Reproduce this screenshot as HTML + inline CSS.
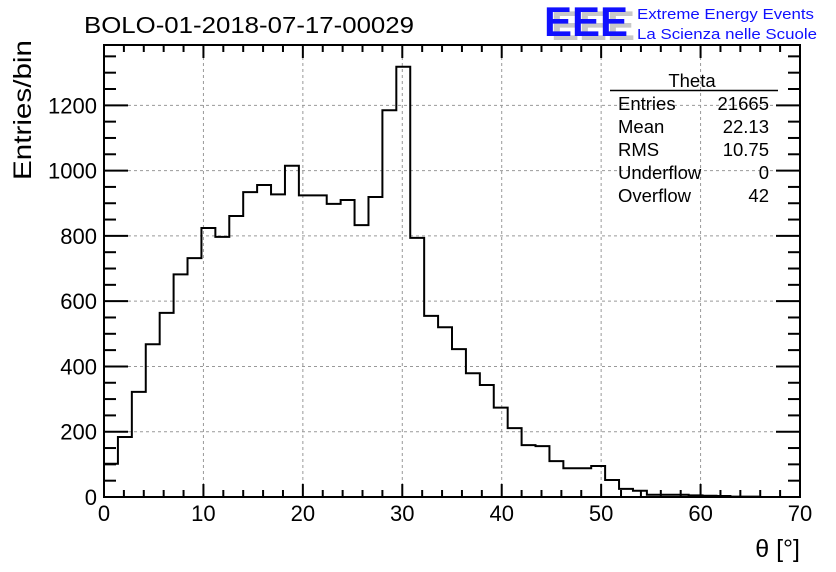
<!DOCTYPE html>
<html><head><meta charset="utf-8"><style>
html,body{margin:0;padding:0;background:#fff;}
svg{display:block;font-family:"Liberation Sans",sans-serif;}
</style></head><body>
<svg id="chart" width="836" height="572">
<text x="84" y="33" font-size="23" textLength="330" lengthAdjust="spacingAndGlyphs">BOLO-01-2018-07-17-00029</text>
<g>
<text x="551" y="40" font-size="42" fill="#c8c8c8" font-weight="bold" textLength="84" lengthAdjust="spacingAndGlyphs">EEE</text>
<text x="544" y="36" font-size="42" fill="#1010ff" font-weight="bold" textLength="84" lengthAdjust="spacingAndGlyphs">EEE</text>
</g>
<text x="637" y="19" font-size="15" fill="#1010ff" textLength="177" lengthAdjust="spacingAndGlyphs">Extreme Energy Events</text>
<text x="637" y="39" font-size="15" fill="#1010ff" textLength="180" lengthAdjust="spacingAndGlyphs">La Scienza nelle Scuole</text>
<g id="grid"></g>
<path id="hist" fill="none" stroke="#000" stroke-width="2"></path>
<g id="axes"></g>
<g font-size="18.5">
<text x="692" y="87" text-anchor="middle">Theta</text>
<line x1="610" y1="90.5" x2="778" y2="90.5" stroke="#000" stroke-width="1.5"/>
<text x="618" y="110">Entries</text><text x="769" y="110" text-anchor="end">21665</text>
<text x="618" y="133">Mean</text><text x="769" y="133" text-anchor="end">22.13</text>
<text x="618" y="156">RMS</text><text x="769" y="156" text-anchor="end">10.75</text>
<text x="618" y="179">Underflow</text><text x="769" y="179" text-anchor="end">0</text>
<text x="618" y="202">Overflow</text><text x="769" y="202" text-anchor="end">42</text>
</g>
<text transform="translate(31,180) rotate(-90)" font-size="25" textLength="140" lengthAdjust="spacingAndGlyphs">Entries/bin</text>
<text x="800" y="557" font-size="25" text-anchor="end">θ [°]</text>
</svg>
<script>
const counts=[102,184,322,468,564,682,732,824,797,861,934,956,927,1015,924,924,898,910,833,919,1185,1318,794,555,520,453,379,343,274,211,159,156,110,88,88,95,52,25,19,7,7,7,5,4,3,1,1,0,0,0];
const xTicks=[0,10,20,30,40,50,60,70];
const yTicks=[0,200,400,600,800,1000,1200];
const binWidth=1.4;
const X0=104,X1=800,Y0=497,Y1=45;
const xs=v=>X0+(v/70)*(X1-X0);
const ys=v=>Y0-v*0.3264;
const NS="http://www.w3.org/2000/svg";
function mk(t,a,parent){const e=document.createElementNS(NS,t);for(const k in a)e.setAttribute(k,a[k]);parent.appendChild(e);return e;}
const grid=document.getElementById('grid'),axes=document.getElementById('axes');
xTicks.forEach(v=>{if(v>0&&v<70){const l=mk('line',{x1:xs(v),x2:xs(v),y1:Y1,y2:Y0,stroke:'#999','stroke-dasharray':'3,3','stroke-width':1},grid);

}});
yTicks.forEach(v=>{if(v>0){const l=mk('line',{x1:X0,x2:X1,y1:ys(v),y2:ys(v),stroke:'#999','stroke-dasharray':'3,3','stroke-width':1},grid);

}});
let d='M'+X0+','+Y0;
counts.forEach((c,i)=>{d+=' L'+xs(i*binWidth)+','+ys(c)+' L'+xs((i+1)*binWidth)+','+ys(c);});
d+=' L'+xs(70)+','+Y0;
document.getElementById('hist').setAttribute('d',d);
const f=mk('rect',{x:X0,y:Y1,width:X1-X0,height:Y0-Y1,fill:'none',stroke:'#000','stroke-width':2},axes);


for(let v=0;v<=70;v+=2){const L=(v%10===0)?13:7;
mk('line',{x1:xs(v),x2:xs(v),y1:Y0,y2:Y0-L,stroke:'#000','stroke-width':2},axes);
mk('line',{x1:xs(v),x2:xs(v),y1:Y1,y2:Y1+L,stroke:'#000','stroke-width':2},axes);}
for(let v=0;v<=1350;v+=50){const L=(v%200===0)?24:12;
mk('line',{x1:X0,x2:X0+L,y1:ys(v),y2:ys(v),stroke:'#000','stroke-width':2},axes);
mk('line',{x1:X1,x2:X1-L,y1:ys(v),y2:ys(v),stroke:'#000','stroke-width':2},axes);}
xTicks.forEach(v=>{const t=mk('text',{x:xs(v),y:521,'font-size':22,'text-anchor':'middle'},axes);t.textContent=v;

});
yTicks.forEach(v=>{const t=mk('text',{x:97,y:ys(v)+8,'font-size':22,'text-anchor':'end'},axes);t.textContent=v;

});
</script>
</body></html>
